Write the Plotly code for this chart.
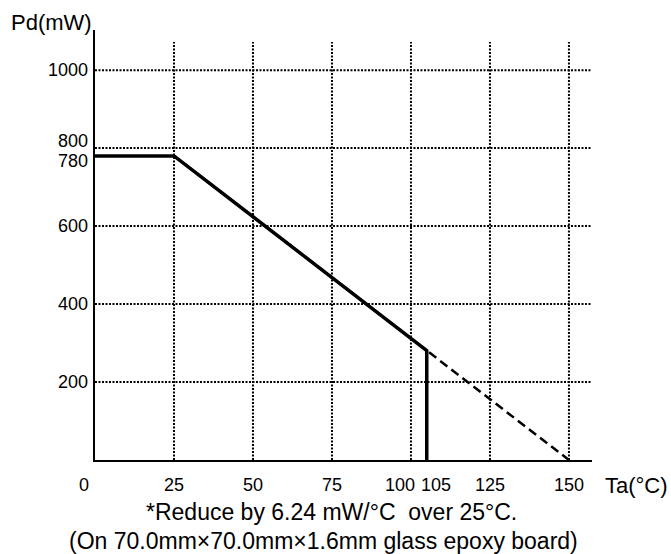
import plotly.graph_objects as go

# data
ta_solid = [0, 25, 105, 105]
pd_solid = [780, 780, 280.8, 0]
ta_dash = [25, 150]
pd_dash = [780, 0]
x_grid = [25, 50, 75, 100, 125, 150]
y_grid = [200, 400, 600, 800, 1000]
x_ticks = [0, 25, 50, 75, 100, 105, 125, 150]
x_tick_text = ["0", "25", "50", "75", "100", "105", "125", "150"]
y_ticks = [200, 400, 600, 780, 800, 1000]
y_tick_text = ["200", "400", "600", "780", "800", "1000"]
x_max = 157.3
y_max = 1103
grid_top = 1072

FONT = "Liberation Sans, Arial, sans-serif"
fig = go.Figure()

grid_style = dict(color="black", width=2, dash="2px,1.5px")
for xv in x_grid:
    fig.add_trace(go.Scatter(x=[xv, xv], y=[0, grid_top], mode="lines",
                             line=grid_style, hoverinfo="skip", showlegend=False))
for yv in y_grid:
    fig.add_trace(go.Scatter(x=[0, x_max], y=[yv, yv], mode="lines",
                             line=grid_style, hoverinfo="skip", showlegend=False))

fig.add_trace(go.Scatter(x=ta_dash, y=pd_dash, mode="lines",
                         line=dict(color="black", width=2.5, dash="9px,5px"),
                         showlegend=False))
fig.add_trace(go.Scatter(x=ta_solid, y=pd_solid, mode="lines",
                         line=dict(color="black", width=3.5),
                         showlegend=False))

x_shift = {0: -11, 100: -11, 105: 9}
for xv, t in zip(x_ticks, x_tick_text):
    fig.add_annotation(x=xv, y=0, xref="x", yref="y", text=t, showarrow=False,
                       xanchor="center", yanchor="middle", yshift=-25,
                       xshift=x_shift.get(xv, 0),
                       font=dict(family=FONT, size=18, color="black"))
y_shift = {780: -5, 800: 7}
for yv, t in zip(y_ticks, y_tick_text):
    fig.add_annotation(x=0, y=yv, xref="x", yref="y", text=t, showarrow=False,
                       xanchor="right", yanchor="middle", xshift=-5,
                       yshift=y_shift.get(yv, 0),
                       font=dict(family=FONT, size=18, color="black"))

fig.add_annotation(x=0, y=1, xref="paper", yref="paper", text="Pd(mW)",
                   showarrow=False, xanchor="right", yanchor="middle",
                   xshift=-1, yshift=8, font=dict(family=FONT, size=22, color="black"))
fig.add_annotation(x=1, y=0, xref="paper", yref="paper", text="Ta(°C)",
                   showarrow=False, xanchor="left", yanchor="middle",
                   xshift=11, yshift=-25, font=dict(family=FONT, size=22, color="black"))
fig.add_annotation(x=0.5, y=0, xref="paper", yref="paper",
                   text="*Reduce by 6.24 mW/°C \u00a0over 25°C.",
                   showarrow=False, xanchor="center", yanchor="middle",
                   xshift=-12, yshift=-52, font=dict(family=FONT, size=23, color="black"))
fig.add_annotation(x=0.5, y=0, xref="paper", yref="paper",
                   text="(On 70.0mm×70.0mm×1.6mm glass epoxy board)",
                   showarrow=False, xanchor="center", yanchor="middle",
                   xshift=-20, yshift=-81, font=dict(family=FONT, size=23, color="black"))

fig.update_layout(
    width=671, height=554,
    margin=dict(l=95, r=79, t=30, b=94),
    paper_bgcolor="white", plot_bgcolor="white",
    showlegend=False,
    xaxis=dict(range=[0, x_max], showgrid=False, zeroline=False, showticklabels=False,
               ticks="", showline=True, linecolor="black", linewidth=1.5, fixedrange=True),
    yaxis=dict(range=[0, y_max], showgrid=False, zeroline=False, showticklabels=False,
               ticks="", showline=True, linecolor="black", linewidth=1.5, fixedrange=True),
)
fig.write_html("out.html")
